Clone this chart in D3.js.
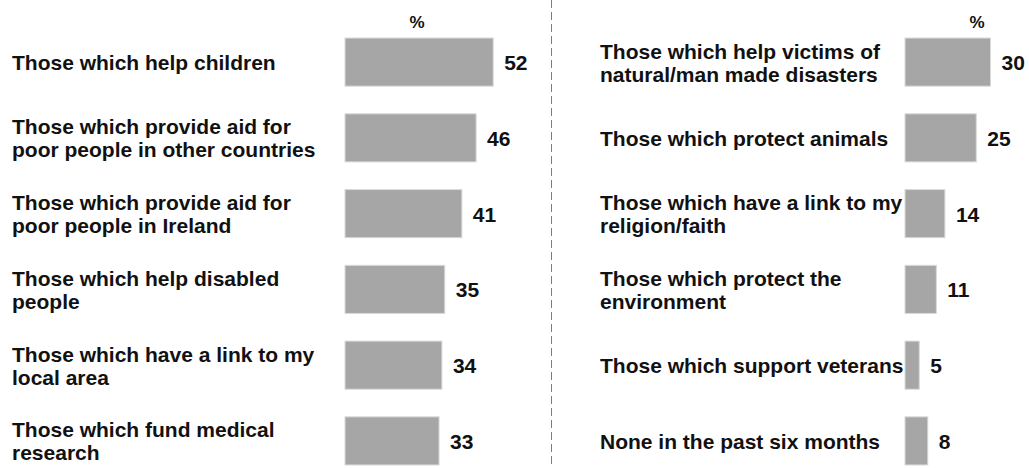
<!DOCTYPE html>
<html lang="en">
<head>
    <meta charset="UTF-8">
    <title>Types of charity supported</title>
    <script src="https://d3js.org/d3.v7.min.js"></script>
    <style>
        body { margin: 0; background: #fff; }
        text { font-family: Arial, "Liberation Sans", sans-serif; font-weight: bold; fill: #111; }
    </style>
</head>
<body>
    <div id="chart"></div>
    <script>
        const width = 1029;
        const height = 468;

        // Left column
        const leftCategories = [
            "Those which help children",
            "Those which provide aid for\npoor people in other countries",
            "Those which provide aid for\npoor people in Ireland",
            "Those which help disabled\npeople",
            "Those which have a link to my\nlocal area",
            "Those which fund medical\nresearch"
        ];
        const leftValues = [52, 46, 41, 35, 34, 33];

        // Right column
        const rightCategories = [
            "Those which help victims of\nnatural/man made disasters",
            "Those which protect animals",
            "Those which have a link to my\nreligion/faith",
            "Those which protect the\nenvironment",
            "Those which support veterans",
            "None in the past six months"
        ];
        const rightValues = [30, 25, 14, 11, 5, 8];

        const svg = d3.select("#chart")
            .append("svg")
            .attr("width", width)
            .attr("height", height);

        // shared scales
        const y = d3.scaleBand()
            .domain(d3.range(6))
            .range([24.2, 478.8])
            .paddingInner(0.365)
            .paddingOuter(0.1825);

        const x = d3.scaleLinear()
            .domain([0, 100])
            .range([0, 285]);

        // dashed divider between the two columns
        svg.append("line")
            .attr("x1", 551.5).attr("x2", 551.5)
            .attr("y1", 0).attr("y2", height)
            .attr("stroke", "#7f7f7f")
            .attr("stroke-width", 1)
            .attr("stroke-dasharray", "8,4");

        function drawPanel(categories, values, labelX, barX) {
            const g = svg.append("g");

            g.append("text")
                .attr("x", barX + 72)
                .attr("y", 28)
                .attr("text-anchor", "middle")
                .style("font-size", "17px")
                .text("%");

            g.selectAll("rect")
                .data(values)
                .join("rect")
                .attr("x", barX)
                .attr("y", (d, i) => y(i))
                .attr("width", d => x(d))
                .attr("height", y.bandwidth())
                .attr("fill", "#a6a6a6")
                .attr("stroke", "#d9d9d9")
                .attr("stroke-width", 1);

            g.selectAll("text.value")
                .data(values)
                .join("text")
                .attr("class", "value")
                .attr("x", d => barX + x(d) + 11)
                .attr("y", (d, i) => y(i) + y.bandwidth() / 2 + 8)
                .style("font-size", "21px")
                .text(d => d);

            const labels = g.selectAll("text.cat")
                .data(categories)
                .join("text")
                .attr("class", "cat")
                .attr("x", labelX)
                .attr("y", (d, i) => y(i) + y.bandwidth() / 2)
                .style("font-size", "21px");

            labels.each(function (d) {
                const lines = d.split("\n");
                const lh = 23;
                const start = -(lines.length - 1) * lh / 2;
                d3.select(this).selectAll("tspan")
                    .data(lines)
                    .join("tspan")
                    .attr("x", labelX)
                    .attr("dy", (l, j) => j === 0 ? (start + 8) : lh)
                    .text(l => l);
            });
        }

        drawPanel(leftCategories, leftValues, 12, 345);
        drawPanel(rightCategories, rightValues, 600, 905);
    </script>
</body>
</html>
